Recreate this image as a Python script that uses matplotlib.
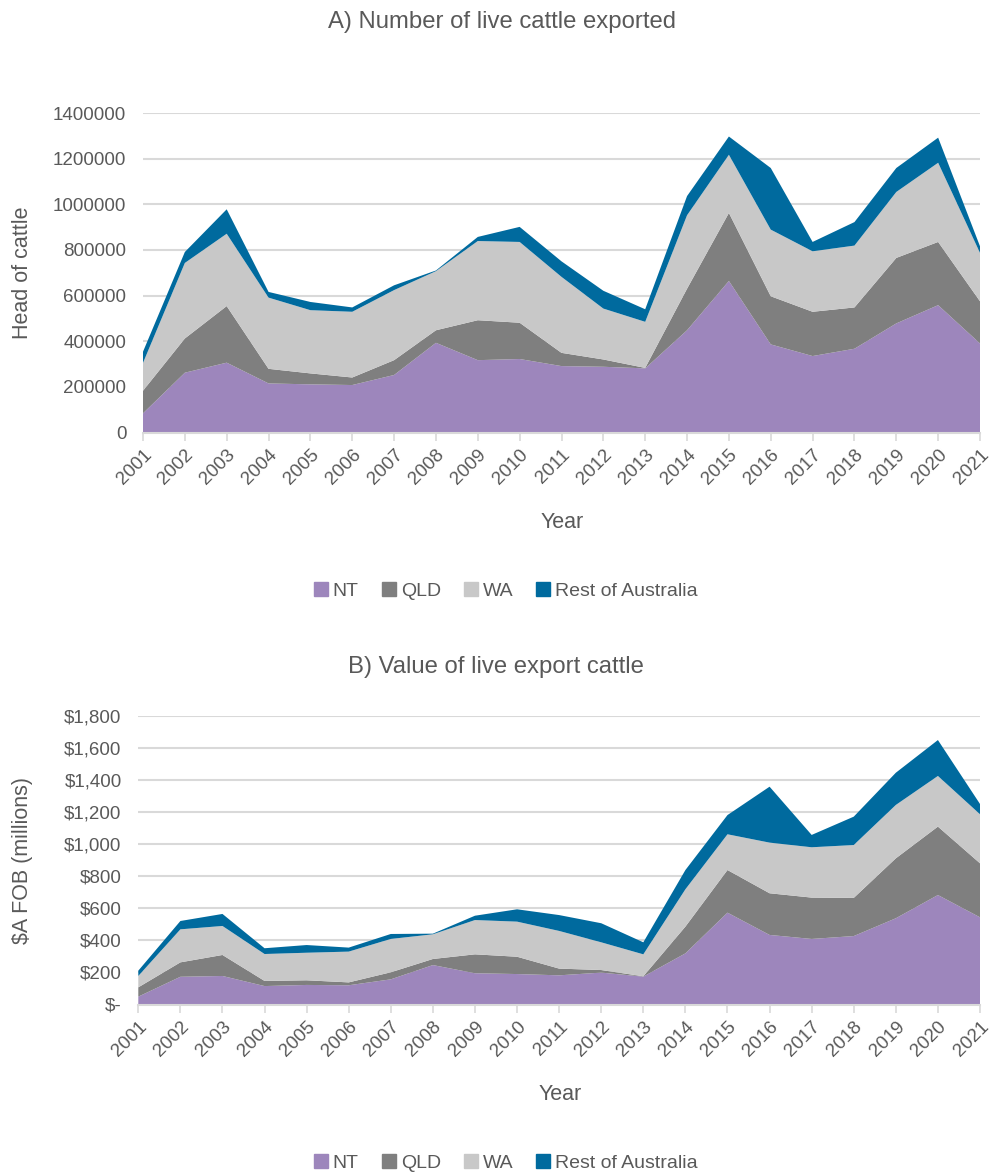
import matplotlib
matplotlib.use("Agg")
import matplotlib.pyplot as plt
from matplotlib.ticker import FuncFormatter
from matplotlib.lines import Line2D

plt.rcParams["font.family"] = ["Liberation Sans", "DejaVu Sans"]

years = list(range(2001, 2022))
regions = ["NT", "QLD", "WA", "Rest of Australia"]
colors = ["#9D86BC", "#7F7F7F", "#C8C8C8", "#006A9E"]

# A) head of cattle exported
nt_head = [84000, 262000, 306000, 215000, 211000, 208000, 252000, 393000, 317000, 322000, 291000,
           288000, 281000, 448000, 664000, 386000, 335000, 367000, 478000, 558000, 390000]
qld_head = [99000, 150000, 248000, 64000, 48000, 33000, 65000, 55000, 175000, 159000, 58000,
            32000, 2000, 182000, 298000, 211000, 194000, 181000, 287000, 277000, 185000]
wa_head = [122000, 331000, 317000, 312000, 277000, 288000, 307000, 259000, 347000, 354000, 333000,
           223000, 202000, 322000, 255000, 292000, 265000, 271000, 289000, 347000, 212000]
rest_head = [49000, 48000, 107000, 25000, 36000, 19000, 21000, 3000, 18000, 66000, 68000,
             78000, 55000, 84000, 80000, 270000, 41000, 103000, 105000, 110000, 29000]

# B) value, $A FOB millions
nt_val = [49, 173, 178, 115, 122, 120, 157, 246, 195, 190, 182, 199, 174, 319, 573, 434, 409, 427, 538, 683, 544]
qld_val = [58, 90, 131, 32, 29, 18, 44, 38, 118, 108, 42, 16, 2, 167, 266, 260, 258, 238, 374, 427, 337]
wa_val = [71, 206, 181, 168, 172, 192, 208, 154, 214, 219, 235, 173, 137, 233, 223, 316, 314, 330, 333, 316, 306]
rest_val = [33, 52, 75, 36, 48, 25, 31, 4, 27, 77, 99, 119, 75, 120, 120, 349, 77, 177, 201, 224, 64]

TXT = "#595959"
GRID = "#D9D9D9"

fig = plt.figure(figsize=(9.95, 11.76), dpi=100)
W, H = 995.0, 1176.0


def style(ax, ymax, step):
    ax.set_xlim(years[0], years[-1])
    ax.set_ylim(0, ymax)
    ax.set_yticks(range(0, ymax + 1, step))
    ax.set_xticks(years)
    ax.set_xticklabels([str(y) for y in years], rotation=45, ha="right", rotation_mode="anchor")
    for s in ["top", "right", "left"]:
        ax.spines[s].set_visible(False)
    ax.spines["bottom"].set_color(GRID)
    ax.spines["bottom"].set_linewidth(1.5)
    ax.grid(axis="y", color=GRID, linewidth=1.5)
    ax.set_axisbelow(True)
    ax.tick_params(axis="y", length=0, labelsize=13.5, labelcolor=TXT, pad=12)
    ax.tick_params(axis="x", length=6, width=1.2, color=GRID, labelsize=13.5, labelcolor=TXT, pad=4)


def legend(y):
    handles = [Line2D([], [], marker="s", linestyle="", markersize=9.4, color=c) for c in colors]
    fig.legend(handles, regions, loc="center", bbox_to_anchor=(506 / W, 1 - y / H), ncol=4,
               frameon=False, fontsize=14, handlelength=0.7, handletextpad=0.25,
               columnspacing=1.2, labelcolor=TXT, borderaxespad=0)


# chart A
axA = fig.add_axes([143 / W, 1 - 432.5 / H, 837 / W, 319.5 / H])
axA.stackplot(years, nt_head, qld_head, wa_head, rest_head, colors=colors, linewidth=0)
style(axA, 1400000, 200000)
axA.yaxis.set_major_formatter(FuncFormatter(lambda v, p: f"{v:.0f}"))
fig.text(502 / W, 1 - 22 / H, "A) Number of live cattle exported", ha="center", va="center",
         fontsize=17.2, color=TXT)
fig.text(23 / W, 1 - 273 / H, "Head of cattle", rotation=90, ha="center", va="center",
         fontsize=15.5, color=TXT)
fig.text(562 / W, 1 - 522 / H, "Year", ha="center", va="center", fontsize=15.5, color=TXT)
legend(591)

# chart B
axB = fig.add_axes([138.3 / W, 1 - 1004.5 / H, 841.7 / W, 288.5 / H])
axB.stackplot(years, nt_val, qld_val, wa_val, rest_val, colors=colors, linewidth=0)
style(axB, 1800, 200)
axB.yaxis.set_major_formatter(FuncFormatter(lambda v, p: "$-" if v == 0 else f"${v:,.0f}"))
fig.text(496 / W, 1 - 667 / H, "B) Value of live export cattle", ha="center", va="center",
         fontsize=17.2, color=TXT)
fig.text(23 / W, 1 - 860 / H, "$A FOB (millions)", rotation=90, ha="center", va="center",
         fontsize=15.5, color=TXT)
fig.text(560 / W, 1 - 1095 / H, "Year", ha="center", va="center", fontsize=15.5, color=TXT)
legend(1163)

fig.savefig("out.png", dpi=100)
